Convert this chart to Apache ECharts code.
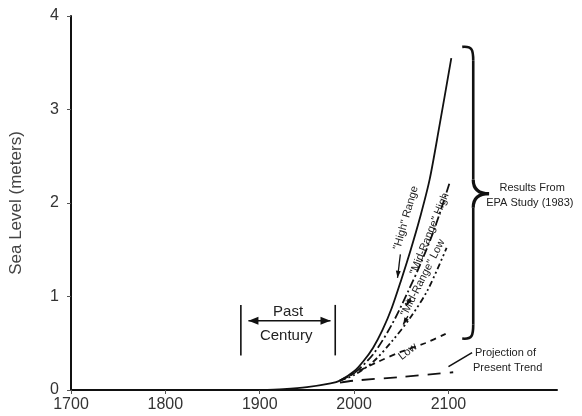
<html>
<head>
    <meta charset="utf-8" />
    <title>Sea Level</title>
    <style>
        * { margin: 0; padding: 0 }
        html, body { width: 100%; height: 100%; background: #fff; }
        #chart { width: 582px; height: 416px; }
    </style>
</head>
<body>
    <div id="chart"></div>
    <script src="https://cdn.jsdelivr.net/npm/echarts@6/dist/echarts.min.js"></script>
    <script>
        // values: [year, metres]
        const highRange = [[1900, 0], [1925, 0.01], [1950, 0.03], [1975, 0.07], [1985, 0.1], [2000, 0.2], [2010, 0.31], [2020, 0.45],
            [2030, 0.64], [2040, 0.88], [2050, 1.18], [2060, 1.5], [2070, 1.85], [2080, 2.25], [2090, 2.8], [2103, 3.55]];
        const midHigh = [[1985, 0.1], [2000, 0.18], [2020, 0.38], [2040, 0.7], [2057, 1.05], [2070, 1.34], [2085, 1.72], [2101, 2.21]];
        const midLow = [[1985, 0.1], [2000, 0.16], [2020, 0.3], [2040, 0.52], [2060, 0.78], [2078, 1.07], [2098, 1.52]];
        const low = [[1985, 0.1], [2000, 0.18], [2025, 0.3], [2050, 0.41], [2075, 0.5], [2097, 0.6]];
        const presentTrend = [[1985, 0.08], [2000, 0.1], [2050, 0.14], [2105, 0.19]];
        const xTicks = [1700, 1800, 1900, 2000, 2100];
        const yTicks = [0, 1, 2, 3, 4];

        const font = '"Liberation Sans", Arial, sans-serif';
        const ink = '#111';

        const chart = echarts.init(document.getElementById('chart'));

        const lineSeries = (data, type, width) => ({
            type: 'line', data: data, smooth: 0.3, showSymbol: false, silent: true,
            lineStyle: { color: ink, width: width, type: type }
        });

        chart.setOption({
            animation: false,
            grid: { left: 70, right: 25, top: 16, bottom: 26 },
            xAxis: {
                type: 'value', min: 1700, max: 2215,
                axisLine: { lineStyle: { color: ink, width: 2 } },
                axisTick: { customValues: xTicks, length: 4, lineStyle: { color: '#555' } },
                axisLabel: { customValues: xTicks, color: '#333', fontSize: 16, fontFamily: font, margin: 7,
                    formatter: v => String(v) },
                splitLine: { show: false }
            },
            yAxis: {
                type: 'value', min: 0, max: 4, interval: 1,
                name: 'Sea Level (meters)', nameLocation: 'middle', nameGap: 46,
                nameTextStyle: { color: '#444', fontSize: 17, fontFamily: font },
                axisLine: { show: true, lineStyle: { color: ink, width: 2 } },
                axisTick: { show: true, length: 4, lineStyle: { color: '#555' } },
                axisLabel: { color: '#333', fontSize: 16, fontFamily: font, margin: 12,
                    formatter: v => yTicks.includes(v) ? String(v) : '' },
                splitLine: { show: false }
            },
            series: [
                lineSeries(highRange, 'solid', 1.8),
                lineSeries(midHigh, [9, 3, 2, 3], 1.8),
                lineSeries(midLow, [6, 3, 2, 3, 2, 3], 1.8),
                lineSeries(low, [6, 5], 1.8),
                lineSeries(presentTrend, [13, 9], 1.8)
            ]
        });

        // annotations placed from data coordinates
        const px = (x, y) => chart.convertToPixel({ gridIndex: 0 }, [x, y]);
        const deg = d => d * Math.PI / 180;
        const smallFont = '11px ' + font;

        const rotText = (text, p, angle, size) => ({
            type: 'text', x: p[0], y: p[1], rotation: deg(angle), silent: true,
            style: { text: text, font: (size || 11) + 'px ' + font, fill: '#222', align: 'center', verticalAlign: 'middle' }
        });
        const arrowHead = (tip, from, len, half) => {
            const dx = tip[0] - from[0], dy = tip[1] - from[1];
            const d = Math.hypot(dx, dy), ux = dx / d, uy = dy / d;
            const bx = tip[0] - ux * len, by = tip[1] - uy * len;
            return { type: 'polygon', silent: true, shape: { points: [tip, [bx - uy * half, by + ux * half], [bx + uy * half, by - ux * half]] }, style: { fill: ink } };
        };
        const seg = (a, b, w) => ({ type: 'line', silent: true, shape: { x1: a[0], y1: a[1], x2: b[0], y2: b[1] }, style: { stroke: ink, lineWidth: w || 1.5 } });
        const curve = (a, c1, c2, b, w) => ({ type: 'bezierCurve', silent: true,
            shape: { x1: a[0], y1: a[1], cpx1: c1[0], cpy1: c1[1], cpx2: c2[0], cpy2: c2[1], x2: b[0], y2: b[1] },
            style: { stroke: ink, lineWidth: w, fill: null } });

        // brace
        const bTop = px(2122, 3.67), bBot = px(2122, 0.55), bTip = px(2143, 2.1);
        const bx = bTop[0] + 4, bw = 2.6;
        const brace = [
            curve([bTop[0] - 7, bTop[1]], [bx - 1, bTop[1] - 1], [bx, bTop[1] + 3], [bx, bTop[1] + 14], bw),
            seg([bx, bTop[1] + 14], [bx, bTip[1] - 14], bw),
            curve([bx, bTip[1] - 14], [bx, bTip[1] - 4], [bTip[0] - 10, bTip[1]], bTip, 3.2),
            curve(bTip, [bTip[0] - 10, bTip[1]], [bx, bTip[1] + 4], [bx, bTip[1] + 14], 3.2),
            seg([bx, bTip[1] + 14], [bx, bBot[1] - 14], bw),
            curve([bx, bBot[1] - 14], [bx, bBot[1] - 3], [bx - 1, bBot[1] + 1], [bTop[0] - 7, bBot[1]], bw)
        ];

        // past century marker
        const pcL = 1880, pcR = 1980;
        const pcTop = 0.91, pcBot = 0.37, pcArrow = 0.74;
        const aL = px(pcL + 8, pcArrow), aR = px(pcR - 5, pcArrow);

        // small arrows along the curves
        const hA1 = px(2049, 1.45), hA2 = px(2046, 1.2);
        const mA1 = px(2060, 0.98), mA2 = px(2055, 0.9);
        const lA1 = px(2057, 0.79), lA2 = px(2052, 0.7);
        const pA1 = px(2125, 0.4), pA2 = px(2100, 0.25);

        const graphics = brace.concat([
            seg(px(pcL, pcTop), px(pcL, pcBot), 1.6),
            seg(px(pcR, pcTop), px(pcR, pcBot), 1.6),
            seg(aL, aR, 1.6),
            arrowHead(aL, aR, 10, 4),
            arrowHead(aR, aL, 10, 4),
            rotText('Past', px(1930, 0.84), 0, 15),
            rotText('Century', px(1928, 0.58), 0, 15),
            rotText('"High" Range', px(2055, 1.84), 74),
            rotText('"Mid-Range" High', px(2080, 1.67), 68),
            rotText('"Mid-Range" Low', px(2073, 1.2), 63),
            rotText('Low', px(2057, 0.41), 38),
            seg(hA1, hA2, 1.3), arrowHead(hA2, hA1, 7, 2.5),
            seg(mA1, mA2, 1.3), arrowHead(mA2, mA1, 7, 2.5),
            seg(lA1, lA2, 1.3), arrowHead(lA2, lA1, 7, 2.5),
            seg(pA1, pA2, 1.6),
            { type: 'text', silent: true, x: px(2154, 2.1)[0], y: px(2154, 2.1)[1] - 6,
              style: { text: 'Results From', font: smallFont, fill: '#222', align: 'left', verticalAlign: 'middle' } },
            { type: 'text', silent: true, x: px(2140, 2.1)[0], y: px(2140, 2.1)[1] + 9,
              style: { text: 'EPA Study (1983)', font: smallFont, fill: '#222', align: 'left', verticalAlign: 'middle' } },
            { type: 'text', silent: true, x: px(2128, 0.4)[0], y: px(2128, 0.4)[1],
              style: { text: 'Projection of', font: smallFont, fill: '#222', align: 'left', verticalAlign: 'middle' } },
            { type: 'text', silent: true, x: px(2126, 0.24)[0], y: px(2126, 0.24)[1],
              style: { text: 'Present Trend', font: smallFont, fill: '#222', align: 'left', verticalAlign: 'middle' } }
        ]);
        chart.setOption({ graphic: graphics });
    </script>
</body>
</html>
